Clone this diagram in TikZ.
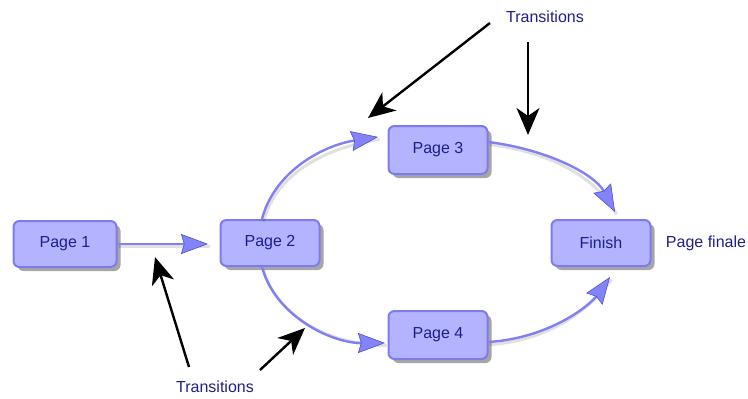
\documentclass[tikz,border=0pt]{standalone}
\usepackage{fontspec}
\setmainfont{Liberation Sans}
\usetikzlibrary{arrows.meta,shadows}
\definecolor{boxfill}{HTML}{B3B3FF}
\definecolor{boxline}{HTML}{7C7CEE}
\definecolor{txt}{HTML}{1E1E8C}
\definecolor{conn}{HTML}{8080F2}
\definecolor{tipfill}{HTML}{8484FA}
\definecolor{tipline}{HTML}{5050C8}
\tikzset{
  pagebox/.style={draw=boxline, fill=boxfill, line width=2pt, rounded corners=6pt,
    minimum width=99pt, minimum height=46pt, text=txt, font=\fontsize{16}{19}\selectfont,
    drop shadow={shadow xshift=4pt, shadow yshift=-4pt, opacity=0.35, fill=black}},
  lbl/.style={text=txt, font=\fontsize{16}{19}\selectfont, inner sep=0pt},
  flow/.style={draw=conn, line width=2.4pt,
    -{Stealth[length=27pt,width=20pt,inset=3pt,fill=tipfill,line width=0.6pt,color=tipline]},
    preaction={draw=black, opacity=0.12, line width=3pt, -, transform canvas={shift={(1.5pt,-2.5pt)}}}},
  pointer/.style={draw=black, line width=2.4pt,
    -{Stealth[length=27pt,width=23pt,inset=8pt]}}
}
\begin{document}
\begin{tikzpicture}[x=1pt,y=-1pt]
\useasboundingbox (0,0) rectangle (748,399);
\node[pagebox, minimum width=103pt] (p1) at (65,244) {Page 1};
\node[pagebox] (p2) at (270,243) {Page 2};
\node[pagebox, minimum height=48pt] (p3) at (438,150) {Page 3};
\node[pagebox, minimum height=48pt] (p4) at (438,335) {Page 4};
\node[pagebox] (fin) at (601,243) {Finish};
\node[lbl] (pf) at (706,243) {Page finale};
\node[lbl] (t1) at (545,17) {Transitions};
\node[lbl] (t2) at (215,387) {Transitions};

\coordinate (e12) at (208,244);
\coordinate (e23) at (378,137);
\coordinate (e3f) at (615,212);
\coordinate (e24) at (385,343);
\coordinate (e4f) at (610,277);

\draw[flow] (p1.east) -- (e12);
\draw[flow] ([xshift=-8pt]p2.north) .. controls (275,170) and (325,145) .. (e23);
\draw[flow] ([yshift=8pt]p3.east) .. controls (550,150) and (595,175) .. (e3f);
\draw[flow] ([xshift=-8pt]p2.south) .. controls (275,315) and (330,343) .. (e24);
\draw[flow] ([yshift=-7pt]p4.east) .. controls (550,338) and (590,305) .. (e4f);

\coordinate (a1s) at (490,23);
\coordinate (a1e) at (368,118);
\coordinate (a2s) at (528,42);
\coordinate (a2e) at (528,135);
\coordinate (a3s) at (189,367);
\coordinate (a3e) at (155,257);
\coordinate (a4s) at (260,370);
\coordinate (a4e) at (305,328);
\draw[pointer] (a1s) -- (a1e);
\draw[pointer] (a2s) -- (a2e);
\draw[pointer] (a3s) -- (a3e);
\draw[pointer] (a4s) -- (a4e);
\end{tikzpicture}
\end{document}
